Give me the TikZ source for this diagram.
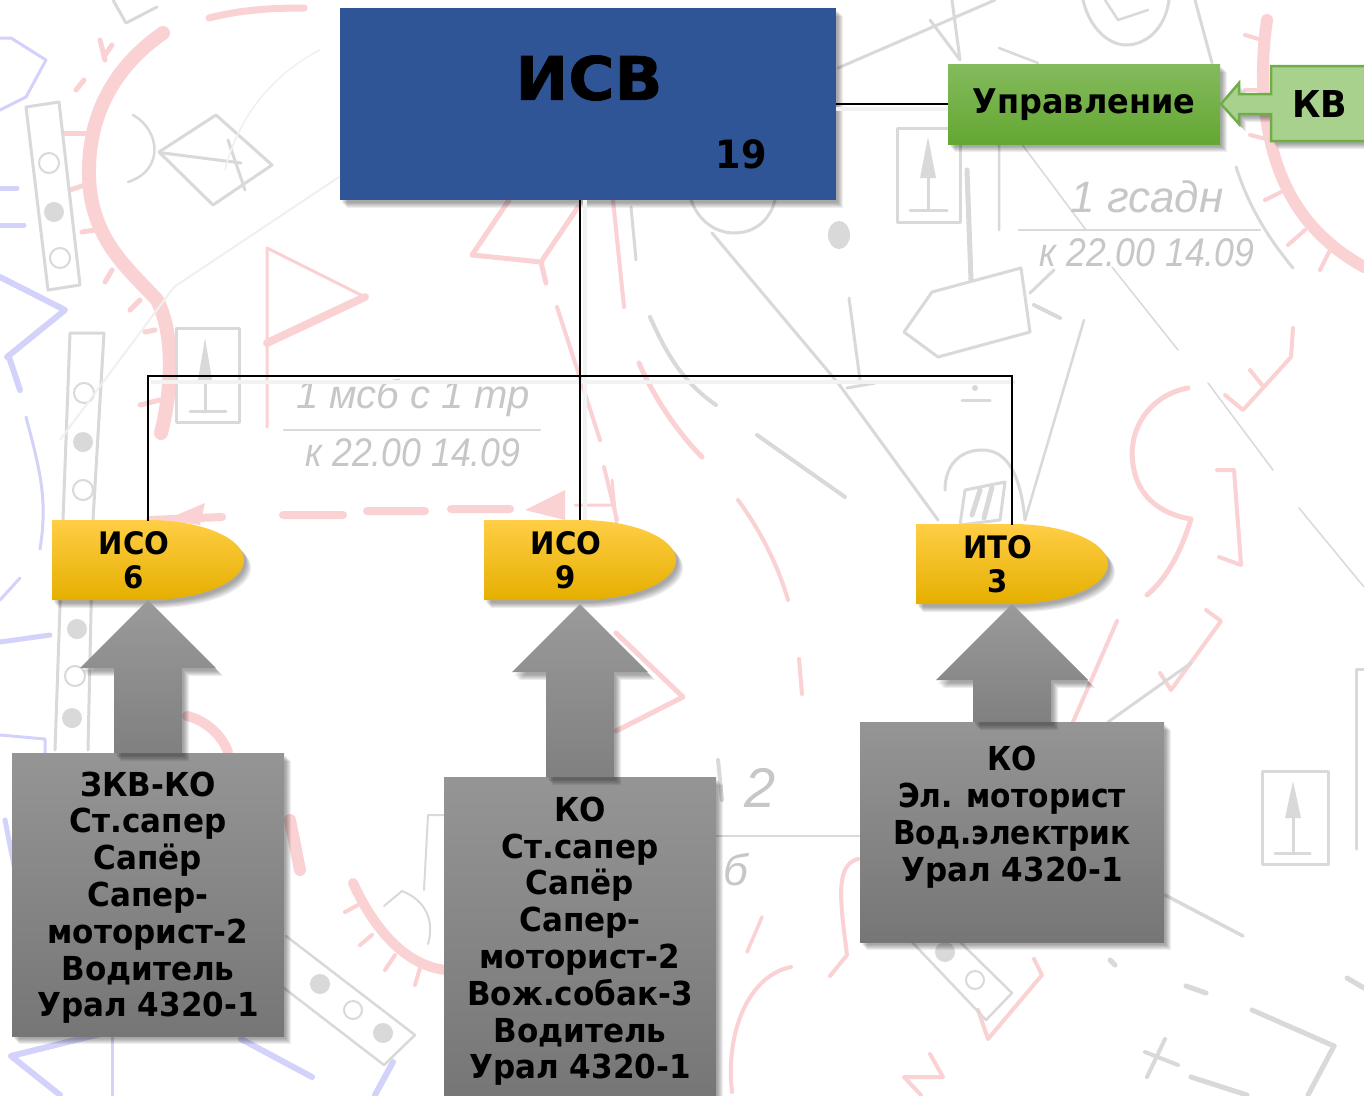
\documentclass[tikz,border=0pt]{standalone}
\usepackage{fontspec}
\setmainfont{DejaVu Sans}[BoldFont={DejaVu Sans Bold}]
\newfontfamily\tbf{DejaVu Sans Bold}[FakeStretch=0.94]
\newfontfamily\tbfn{DejaVu Sans Bold}[FakeStretch=0.90]
\newfontfamily\tbfw{DejaVu Sans Bold}[FakeStretch=1.05,FakeBold=1.2]
\newfontfamily\mapf{Liberation Sans Italic}
\newfontfamily\mapn{Liberation Sans Italic}[FakeStretch=0.89]
\usetikzlibrary{calc}
\definecolor{mapred}{HTML}{FAD2D4}
\definecolor{mapgrey}{HTML}{D9D9D9}
\definecolor{mapblue}{HTML}{D2D2FA}
\definecolor{isvblue}{HTML}{2F5597}
\definecolor{bulA}{HTML}{FFCE45}
\definecolor{bulB}{HTML}{FFC400}
\definecolor{bulC}{HTML}{E5AF00}
\definecolor{grnA}{HTML}{84BB5C}
\definecolor{grnB}{HTML}{64A733}
\definecolor{kvfill}{HTML}{A9D18E}
\definecolor{kvline}{HTML}{70AD47}
\definecolor{gryA}{HTML}{959595}
\definecolor{gryB}{HTML}{767676}
\definecolor{arrA}{HTML}{9A9A9A}
\definecolor{arrB}{HTML}{808080}
\newcommand{\firstline}{\rule{0pt}{31pt}}
\tikzset{
  shadowlayer/.style={preaction={fill=black,fill opacity=.065,draw=none,transform canvas={shift={(#1)}}}},
  softshadow/.style={shadowlayer={7pt,-8pt},shadowlayer={6pt,-7pt},shadowlayer={5pt,-6pt},shadowlayer={4pt,-5pt},shadowlayer={3pt,-4pt},shadowlayer={2pt,-3pt}},
  redl/.style={draw=mapred,line width=#1,line cap=round,line join=round},
  redl/.default=4pt,
  greyl/.style={draw=mapgrey,line width=#1,line cap=round,line join=round},
  greyl/.default=2.5pt,
  bluel/.style={draw=mapblue,line width=#1,line cap=round,line join=round},
  bluel/.default=4pt,
  maptext/.style={text=black!22,font=\mapf\fontsize{#1}{#1}\selectfont,inner sep=0pt},
  maptextn/.style={text=black!22,font=\mapn\fontsize{#1}{#1}\selectfont,inner sep=0pt},
  boxgeo/.style={draw=none,rectangle,inner sep=0pt,outer sep=0pt},
  graybox/.style={boxgeo,top color=gryA,bottom color=gryB,softshadow,align=center,
     font=\tbf\fontsize{33}{36.8}\selectfont},
  arrowfill/.style={top color=arrA,bottom color=arrB,softshadow},
  conn/.style={draw=black,line width=2pt},
  connshadow/.style={draw=black!5,line width=4pt},
  btext/.style={font=\tbf\fontsize{31}{34}\selectfont,align=center,inner sep=0pt},
}
\newcommand{\bulletnode}[4]{% name, left x, top y, text
  \begin{scope}[shift={(#2,#3)}]
  \path[top color=bulA,middle color=bulB,bottom color=bulC,softshadow]
    (0,0) -- (96,0) .. controls (149,0) and (192,18) .. (192,40)
    .. controls (192,62) and (149,80) .. (96,80) -- (0,80) -- cycle;
  \node[boxgeo,minimum width=192pt,minimum height=80pt,anchor=north west,
    label={[btext,xshift=-14pt]center:{#4}}] (#1) at (0,0) {};
  \end{scope}
}
\newcommand{\upconn}[5]{% tip, head length, half head, half shaft, foot node
  \path[arrowfill] (#1) -- ($(#1)+(#3,#2)$) -- ($(#1)+(#4,#2)$) -- ($(#5.north)+(#4,0)$)
     -- ($(#5.north)+(-#4,0)$) -- ($(#1)+(-#4,#2)$) -- ($(#1)+(-#3,#2)$) -- cycle;
}
\begin{document}
\begin{tikzpicture}[x=1pt,y=-1pt]
\useasboundingbox (0,0) rectangle (1364,1095);
\clip (0,0) rectangle (1364,1095);
\fill[white] (0,0) rectangle (1364,1095);
% ---------- faded map in the background ----------
% blue
\draw[bluel=3pt] (0,38) -- (11,38) -- (46,60) -- (26,97) -- (0,110);
\draw[bluel=5pt] (0,188) -- (17,188) (0,225) -- (24,225);
\draw[bluel=6pt] (0,277) -- (65,310) -- (7,357) (9,357) -- (20,390);
\draw[bluel=3pt] (26,417) .. controls (40,470) and (48,500) .. (40,549);
\draw[bluel=3pt] (20,578) -- (0,600);
\draw[bluel=5pt] (0,642) -- (50,635);
\draw[bluel=3pt] (0,735) -- (45,739) -- (45,755);
\draw[bluel=5pt] (5,820) -- (15,870);
\draw[bluel=6pt] (11,1056) -- (60,1095) (11,1056) -- (112,1031) (241,1039) -- (312,1077) (393,1062) -- (375,1095);
\draw[bluel=3pt] (112,1031) -- (112,1095);
% red
\draw[redl=14pt] (163,33) .. controls (110,70) and (88,120) .. (89,175) .. controls (90,240) and (130,270) .. (157,300) .. controls (175,335) and (172,390) .. (161,433);
\foreach \a/\b/\c/\d in {112/45/105/55, 84/80/76/90, 85/133/65/133, 85/185/70/190, 95/230/82/232, 112/270/105/282, 140/300/130/310, 155/330/145/332, 160/400/140/405, 105/60/100/40}
  \draw[redl=5pt] (\a,\b) -- (\c,\d);
\draw[redl=7pt] (209,18) .. controls (240,10) and (270,8) .. (304,8);
\draw[redl=3pt] (267,427) -- (267,248) -- (365,297);
\draw[redl=8pt] (365,297) -- (267,343);
\draw[redl=5pt] (509,200) -- (472,255) -- (541,262) -- (578,207) (541,262) -- (546,283);
\draw[redl=4pt] (613,200) -- (624,307) (557,307) -- (600,440) (604,467) -- (617,520);
\draw[redl=5pt] (639,363) .. controls (655,400) and (680,435) .. (702,457);
\draw[redl=8pt] (150,520) -- (222,517) (283,515) -- (343,515) (367,511) -- (425,511) (451,509) -- (510,509);
\fill[mapred] (165,520) -- (205,503) -- (200,525) -- cycle (525,510) -- (565,490) -- (565,520) -- cycle;
\draw[redl=3pt] (575,505) -- (612,505) (612,480) -- (617,530);
\draw[redl=4pt] (738,500) .. controls (760,530) and (778,565) .. (788,600);
\draw[redl=4pt] (799,659) -- (802,694);
\draw[redl=5pt] (616,633) -- (683,697) -- (616,731);
\draw[redl=10pt] (187,716) .. controls (205,720) and (222,735) .. (228,752);
\draw[redl=12pt] (290,820) -- (300,870);
\draw[redl=10pt] (353,883) .. controls (370,920) and (400,965) .. (446,970);
\foreach \a/\b/\c/\d in {358/905/345/912, 372/935/360/945, 395/955/385/970, 420/968/415/985}
  \draw[redl=4pt] (\a,\b) -- (\c,\d);
\draw[redl=12pt] (1267,20) .. controls (1258,80) and (1265,130) .. (1278,167) .. controls (1295,215) and (1325,245) .. (1364,267);
\foreach \a/\b/\c/\d in {1262/40/1245/35, 1260/90/1245/90, 1285/190/1265/200, 1305/230/1288/245, 1330/250/1320/270, 1270/140/1250/135}
  \draw[redl=4pt] (\a,\b) -- (\c,\d);
\draw[redl=4pt] (1291,357) -- (1243,410) -- (1225,395) (1293,328) -- (1291,357) (1262,385) -- (1250,370);
\draw[redl=5pt] (1188,388) .. controls (1150,395) and (1125,430) .. (1134,470) .. controls (1140,500) and (1165,515) .. (1191,519) .. controls (1180,555) and (1165,580) .. (1147,595);
\draw[redl=4pt] (1217,470) -- (1234,470) -- (1241,565) -- (1219,557);
\draw[redl=4pt] (1117,621) -- (1073,722);
\draw[redl=4pt] (1206,610) -- (1221,621) -- (1171,690) -- (1160,673);
\draw[redl=4pt] (858,859) .. controls (835,865) and (840,900) .. (847,955) -- (830,976);
\draw[redl=3.5pt] (762,917) -- (747,952);
\draw[redl=4pt] (791,967) .. controls (750,975) and (725,1030) .. (732,1092);
\draw[redl=4pt] (1034,959) -- (1042,975) -- (988,1039) -- (978,1010);
\draw[redl=4pt] (930,1054) -- (943,1077) -- (904,1077) -- (921,1095);
% grey
\draw[greyl=3pt] (113,0) -- (126,23) -- (157,7);
\draw[greyl=3pt] (26,107) -- (59,102) -- (80,285) -- (48,290) -- cycle;
\draw[greyl=2pt] (49,163) circle[radius=10pt] (60,258) circle[radius=10pt];
\fill[mapgrey] (54,212) circle[radius=10pt];
\draw[greyl=3pt] (70,333) -- (104,333) -- (93,520) (70,333) -- (63,520) -- (55,750) (93,520) -- (88,750);
\draw[greyl=2pt] (84,393) circle[radius=10pt] (83,490) circle[radius=10pt] (75,676) circle[radius=10pt];
\fill[mapgrey] (83,442) circle[radius=10pt] (77,629) circle[radius=10pt] (72,718) circle[radius=10pt];
\draw[greyl=3pt] (216,115) -- (272,165) -- (213,205) -- (159,152) -- cycle;
\draw[greyl=3pt] (163,153) -- (241,163) (228,140) -- (245,190);
\draw[greyl=2.5pt] (133,115) .. controls (160,130) and (165,170) .. (128,182);
\draw[greyl=3pt] (176,328) rectangle (239,422);
\draw[greyl=3pt] (205,360) -- (205,412) (190,411) -- (226,411);
\fill[mapgrey] (205,338) -- (212,380) -- (198,380) -- cycle;
\draw[draw=black!6,line width=2pt] (174,287) -- (339,177) (60,440) -- (174,287);
\draw[draw=black!6,line width=1.5pt] (225,170) .. controls (240,110) and (280,70) .. (320,50);
\draw[greyl=2.5pt] (286,936) -- (415,1035) -- (384,1065) -- (280,985);
\draw[greyl=2pt] (353,1010) circle[radius=9pt];
\fill[mapgrey] (320,984) circle[radius=10pt] (383,1033) circle[radius=10pt];
\draw[greyl=2pt] (384,906) -- (402,891) .. controls (425,900) and (435,920) .. (428,944) (428,815) -- (424,890) (444,815) -- (428,815);
\draw[greyl=3pt] (631,207) -- (636,260);
\draw[greyl=4pt] (650,317) .. controls (665,350) and (680,380) .. (716,405);
\draw[greyl=4pt] (757,435) -- (845,497);
\draw[greyl=3pt] (838,68) -- (995,0) (930,20) -- (960,60) (952,0) -- (960,60);
\draw[greyl=2.5pt] (999,48) -- (1038,63) (999,143) -- (999,230);
\draw[greyl=3pt] (1083,0) .. controls (1090,30) and (1110,45) .. (1126,45) .. controls (1145,45) and (1165,30) .. (1169,0) (1195,0) -- (1212,63);
\draw[greyl=2.5pt] (1105,0) -- (1118,20) -- (1148,10);
\draw[greyl=3pt] (691,200) .. controls (700,225) and (720,233) .. (734,233) .. controls (755,233) and (770,220) .. (775,200);
\draw[greyl=3pt] (712,233) -- (838,383) -- (938,520);
\fill[mapgrey] (839,235) ellipse[x radius=11pt,y radius=14pt];
\draw[greyl=3pt] (897,128) rectangle (960,222);
\draw[greyl=3pt] (928,160) -- (928,210) (910,210) -- (947,210);
\fill[mapgrey] (928,137) -- (936,178) -- (920,178) -- cycle;
\draw[greyl=5pt] (967,170) -- (971,280);
\draw[greyl=3pt] (1021,268) -- (1030,332) -- (938,357) -- (904,332) -- (932,292) -- cycle;
\draw[greyl=3pt] (1030,293) -- (1054,270);
\draw[greyl=4pt] (1034,305) -- (1060,318);
\draw[greyl=3pt] (849,298) -- (860,380) (847,388) -- (875,383);
\draw[greyl=3pt] (962,400) -- (990,400);
\fill[mapgrey] (975,388) circle[radius=3pt];
\draw[greyl=2.5pt] (1084,320) -- (1025,520);
\draw[greyl=1.5pt] (1021,143) -- (1086,230) (1112,267) -- (1178,350) (1208,383) -- (1273,470) (1299,508) -- (1364,587);
\draw[greyl=2.5pt] (1019,230) -- (1260,230);
\draw[greyl=3pt] (1236,167) .. controls (1250,210) and (1270,240) .. (1293,268);
\draw[greyl=3pt] (945,490) .. controls (945,465) and (960,450) .. (982,450) .. controls (1005,450) and (1020,470) .. (1025,520);
\draw[greyl=3pt] (965,490) -- (1005,482) -- (1000,520) -- (960,525) -- cycle;
\draw[greyl=5pt] (980,490) -- (972,515) (992,487) -- (984,518);
\draw[greyl=3pt] (1191,663) -- (1108,722);
\draw[greyl=3.5pt] (1165,895) -- (1243,936);
\draw[greyl=2.5pt] (912,942) -- (986,1020) (960,942) -- (1012,993) (986,1020) -- (1012,993);
\draw[greyl=2pt] (975,980) circle[radius=9pt];
\fill[mapgrey] (945,952) circle[radius=10pt];
\draw[greyl=3pt] (1262,771) rectangle (1328,864);
\draw[greyl=3pt] (1293,815) -- (1293,851) (1275,853) -- (1310,853);
\fill[mapgrey] (1293,781) -- (1301,818) -- (1285,818) -- cycle;
\draw[greyl=3pt] (1364,669) -- (1356,669) -- (1356,849);
\draw[greyl=5pt] (1252,1010) -- (1334,1046) (1186,986) -- (1206,993) (1191,1077) -- (1247,1095);
\draw[greyl=5pt] (1334,1046) -- (1308,1095) (1110,960) -- (1115,965) (1347,978) -- (1364,988);
\draw[greyl=4pt] (1165,1039) -- (1147,1077) (1145,1052) -- (1178,1065);
\draw[greyl=2.5pt] (716,836) -- (860,836);
% map lettering
\node[maptext=40] (t1) at (413,398) {1 мсб с 1 тр};
\draw[greyl=2.5pt] (284,430) -- (540,430);
\node[maptextn=40] (t2) at (413,453) {к 22.00 14.09};
\node[maptext=44] (t3) at (1147,197) {1 гсадн};
\node[maptextn=40] (t4) at (1147,253) {к 22.00 14.09};
\node[maptext=56] (t5) at (760,788) {2};
\node[maptext=44] (t6) at (736,870) {б};
\draw[greyl=4pt] (718,760) -- (722,800);
% ---------- diagram ----------
\node[boxgeo,fill=isvblue,softshadow,minimum width=496pt,minimum height=192pt,anchor=north west] (isv) at (340,8) {};
\node[font=\tbfw\fontsize{60}{60}\selectfont,inner sep=0pt] (isvname) at (589,78) {ИСВ};
\node[font=\tbf\fontsize{39}{39}\selectfont,inner sep=0pt] (isvnum) at (741,154) {19};
\node[boxgeo,top color=grnA,bottom color=grnB,softshadow,minimum width=272pt,minimum height=80pt,anchor=north west] (upr) at (948,64) {};
\node[font=\tbf\fontsize{34}{34}\selectfont,inner sep=0pt] (uprname) at ($(upr.center)+(0,1)$) {Управление};
% callout
\path[draw=kvline,line width=2.5pt,fill=kvfill,softshadow,line join=miter]
  (1221,104) -- (1239,83) -- (1239,94) -- (1271,94) -- (1271,66) -- (1380,66) -- (1380,141) -- (1271,141) -- (1271,114) -- (1239,114) -- (1239,124) -- cycle;
\node[font=\tbf\fontsize{37}{37}\selectfont,inner sep=0pt] (kv) at (1320,104) {КВ};
% junction points
\coordinate (busL) at (148,376);
\coordinate (busM) at (580,376);
\coordinate (busR) at (1012,376);
% subordinate leaves and boxes
\bulletnode{iso1}{52}{520}{ИСО\\6}
\bulletnode{iso2}{484}{520}{ИСО\\9}
\bulletnode{ito}{916}{524}{ИТО\\3}
\node[graybox,minimum width=272pt,minimum height=283pt,anchor=north west] (box1) at (12,753)
  {\firstline ЗКВ-КО\\Ст.сапер\\Сапёр\\Сапер-\\моторист-2\\Водитель\\Урал 4320-1};
\node[graybox,minimum width=272pt,minimum height=322pt,anchor=north west] (box2) at (444,777)
  {\firstline КО\\Ст.сапер\\Сапёр\\Сапер-\\моторист-2\\Вож.собак-3\\Водитель\\Урал 4320-1};
\node[graybox,font=\tbfn\fontsize{33}{36.8}\selectfont,minimum width=304pt,minimum height=220pt,anchor=north west] (box3) at (860,722)
  {КО\\Эл. моторист\\Вод.электрик\\\tbf Урал 4320-1\\\mbox{}};
\coordinate (tip1) at (iso1.south);
\coordinate (tip2) at ($(iso2.south)+(0,4)$);
\coordinate (tip3) at (ito.south);
\upconn{tip1}{68}{68}{34}{box1}
\upconn{tip2}{68}{68}{34}{box2}
\upconn{tip3}{76}{76}{39}{box3}
% connectors
\draw[connshadow] ($(isv.east |- upr.west)+(0,5)$) -- ($(upr.west)+(0,5)$);
\draw[connshadow] ($(busL)+(3,6)$) -- ($(busR)+(3,6)$);
\draw[connshadow] ($(isv.south -| busM)+(5,0)$) -- ($(iso2.north)+(5,0)$);
\draw[conn] (isv.east |- upr.west) -- (upr.west);
\draw[conn] (isv.south -| busM) -- (iso2.north);
\draw[conn,line cap=rect] (iso1.north) -- (busL) -- (busR) -- (ito.north);
\end{tikzpicture}
\end{document}
